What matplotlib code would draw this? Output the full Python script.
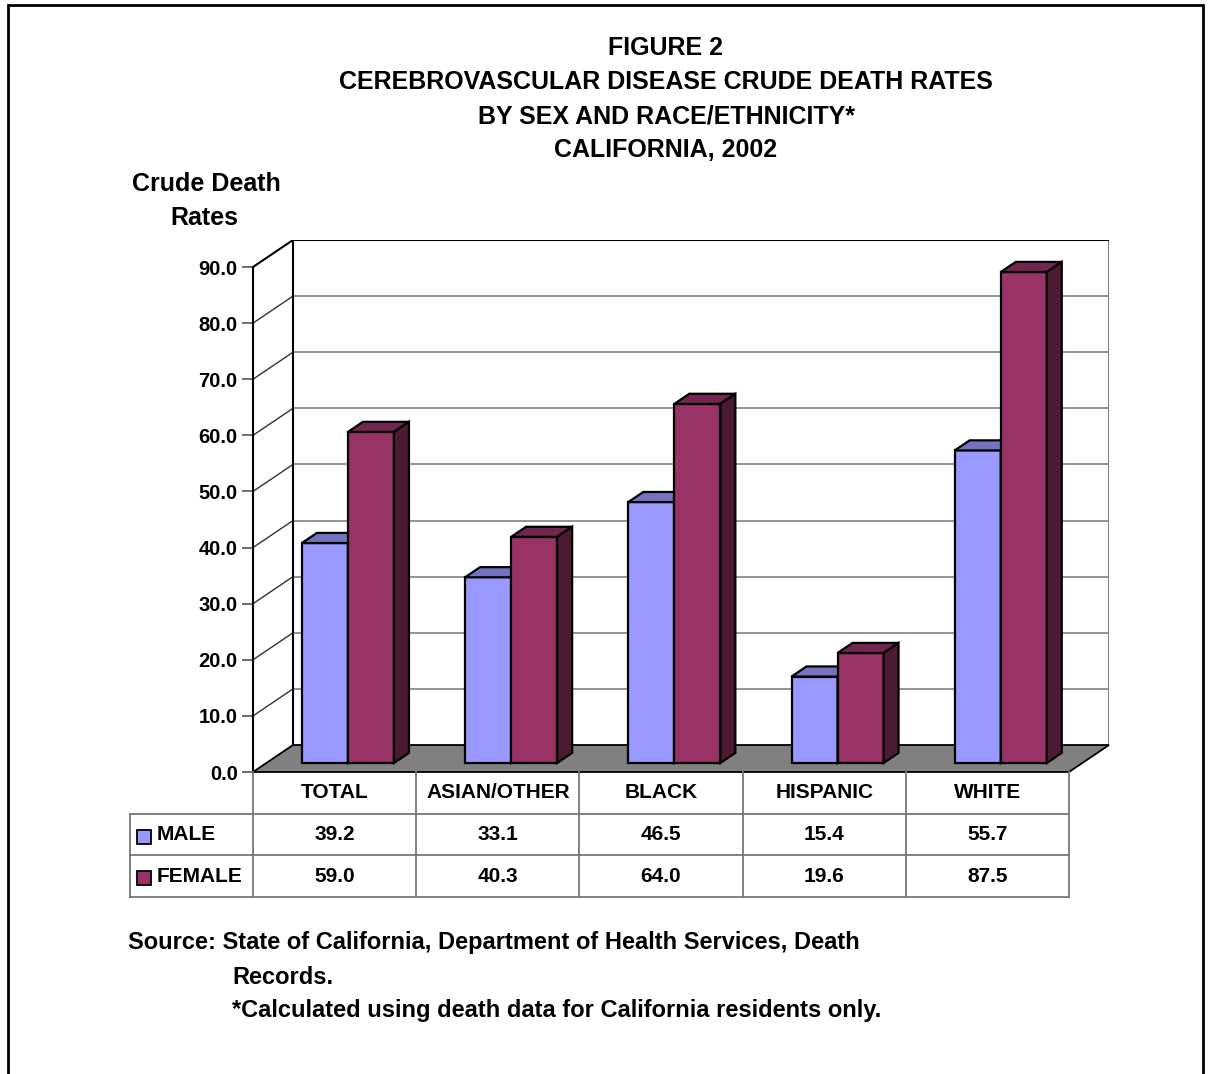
import matplotlib.pyplot as plt
from matplotlib.patches import Polygon, Rectangle

categories = ['TOTAL', 'ASIAN/OTHER', 'BLACK', 'HISPANIC', 'WHITE']
male = [39.2, 33.1, 46.5, 15.4, 55.7]
female = [59.0, 40.3, 64.0, 19.6, 87.5]
series_names = ['MALE', 'FEMALE']
yticks = [0, 10, 20, 30, 40, 50, 60, 70, 80, 90]

title_lines = ['FIGURE 2',
               'CEREBROVASCULAR DISEASE CRUDE DEATH RATES',
               'BY SEX AND RACE/ETHNICITY*',
               'CALIFORNIA, 2002']

plt.rcParams['font.family'] = ['Liberation Sans', 'DejaVu Sans']
plt.rcParams['font.weight'] = 'bold'

W, H = 1209, 1074
fig = plt.figure(figsize=(W / 100, H / 100), dpi=100)
fig.patch.set_facecolor('white')


def fx(px):
    return px / W


def fy(py):
    return 1 - py / H


# outer frame
fig.patches.append(Rectangle((fx(8), fy(1085)), fx(1203) - fx(8), fy(5) - fy(1085),
                             transform=fig.transFigure, fill=False, ec='black', lw=2))

# colours
c_male, c_male_top, c_male_side = '#9999FF', '#7373BF', '#4D4D80'
c_fem, c_fem_top, c_fem_side = '#993366', '#732650', '#4D1A33'
c_floor = '#808080'
c_grid = '#808080'

n = len(categories)
col_px = 163.2
dxd = 40 / col_px          # depth offset in category units
dyd = 27 / 5.611           # depth offset in value units
f0, fdep = 1 / 3, 0.375    # bar front position and bar depth (fraction of depth)
w = 0.282

ax = fig.add_axes([fx(253), fy(772), fx(1109) - fx(253), fy(240) - fy(772)])
ax.set_xlim(0, n + dxd)
ax.set_ylim(0, 90 + dyd)
ax.patch.set_alpha(0)
for s in ['top', 'right', 'bottom']:
    ax.spines[s].set_visible(False)
ax.spines['left'].set_bounds(0, 90)
ax.spines['left'].set_linewidth(1.5)
ax.set_xticks([])
ax.set_yticks(yticks)
ax.set_yticklabels([f'{v:.1f}' for v in yticks])
ax.tick_params(axis='y', direction='out', length=8, width=1.2, color='#555555',
               labelsize=14.5, pad=3)
for lab in ax.get_yticklabels():
    lab.set_fontweight('bold')

# back wall + side wall
ax.add_patch(Polygon([(dxd, dyd), (n + dxd, dyd), (n + dxd, 90 + dyd), (dxd, 90 + dyd)],
                     closed=True, fc='white', ec='none', zorder=0.5))
for v in yticks[1:-1]:
    ax.plot([dxd, n + dxd], [v + dyd, v + dyd], color=c_grid, lw=1.2, zorder=1)
    ax.plot([0, dxd], [v, v + dyd], color='#333333', lw=1.0, zorder=1)
ax.plot([0, dxd, n + dxd], [90, 90 + dyd, 90 + dyd], color='black', lw=1.5, zorder=1.2)
ax.plot([dxd, dxd], [dyd, 90 + dyd], color='black', lw=1.5, zorder=1.2)
ax.plot([n + dxd, n + dxd], [dyd, 90 + dyd], color=c_grid, lw=1.5, zorder=1.1)

# floor
ax.add_patch(Polygon([(0, 0), (dxd, dyd), (n + dxd, dyd), (n, 0)], closed=True,
                     fc=c_floor, ec='black', lw=1.3, zorder=2, clip_on=False))

b = f0 * dyd
bdx, bdy = fdep * dxd, fdep * dyd
for i in range(n):
    center = i + 0.5 + f0 * dxd
    for x0, v, cf, ct, cs in [(center - w, male[i], c_male, c_male_top, c_male_side),
                              (center, female[i], c_fem, c_fem_top, c_fem_side)]:
        ax.bar(x0, v, width=w, bottom=b, align='edge', color=cf, ec='black',
               lw=1.6, zorder=3, clip_on=False)
        ax.add_patch(Polygon([(x0, b + v), (x0 + w, b + v), (x0 + w + bdx, b + v + bdy),
                              (x0 + bdx, b + v + bdy)], closed=True, fc=ct, ec='black',
                             lw=1.6, zorder=3, clip_on=False))
        ax.add_patch(Polygon([(x0 + w, b), (x0 + w + bdx, b + bdy),
                              (x0 + w + bdx, b + v + bdy), (x0 + w, b + v)], closed=True,
                             fc=cs, ec='black', lw=1.6, zorder=3, clip_on=False))

# data table
left = -(253 - 130) / col_px
tax = fig.add_axes([fx(130), fy(897), fx(1069) - fx(130), fy(772) - fy(897)])
tax.set_xlim(left, n)
tax.set_ylim(3, 0)
tax.axis('off')
tcol = '#777777'
for k in range(n + 1):
    tax.plot([k, k], [0, 3], color=tcol, lw=1.3, clip_on=False)
tax.plot([left, left], [1, 3], color=tcol, lw=1.3, clip_on=False)
for r in [1, 2, 3]:
    tax.plot([left, n], [r, r], color=tcol, lw=1.3, clip_on=False)
for i, cat in enumerate(categories):
    tax.text(i + 0.5, 0.5, cat, ha='center', va='center', fontsize=15, fontweight='bold')
    tax.text(i + 0.5, 1.5, f'{male[i]:.1f}', ha='center', va='center', fontsize=15,
             fontweight='bold')
    tax.text(i + 0.5, 2.5, f'{female[i]:.1f}', ha='center', va='center', fontsize=15,
             fontweight='bold')
for r, (name, col) in enumerate(zip(series_names, [c_male, c_fem])):
    tax.plot(left + 14 / col_px, 1.55 + r, marker='s', ms=10, mfc=col, mec='black',
             mew=1.3, clip_on=False)
    tax.text(left + 27 / col_px, 1.5 + r, name, ha='left', va='center', fontsize=15,
             fontweight='bold')

# titles and notes
for k, line in enumerate(title_lines):
    fig.text(fx(666), fy(48 + 34 * k), line, ha='center', va='center', fontsize=18,
             fontweight='bold')
fig.text(fx(206), fy(184), 'Crude Death', ha='center', va='center', fontsize=18,
         fontweight='bold')
fig.text(fx(204), fy(218), 'Rates', ha='center', va='center', fontsize=18,
         fontweight='bold')
fig.text(fx(128), fy(943), 'Source: State of California, Department of Health Services, Death',
         ha='left', va='center', fontsize=17, fontweight='bold')
fig.text(fx(232), fy(977), 'Records.', ha='left', va='center', fontsize=17,
         fontweight='bold')
fig.text(fx(232), fy(1011), '*Calculated using death data for California residents only.',
         ha='left', va='center', fontsize=17, fontweight='bold')

fig.savefig('out.png', dpi=100)
